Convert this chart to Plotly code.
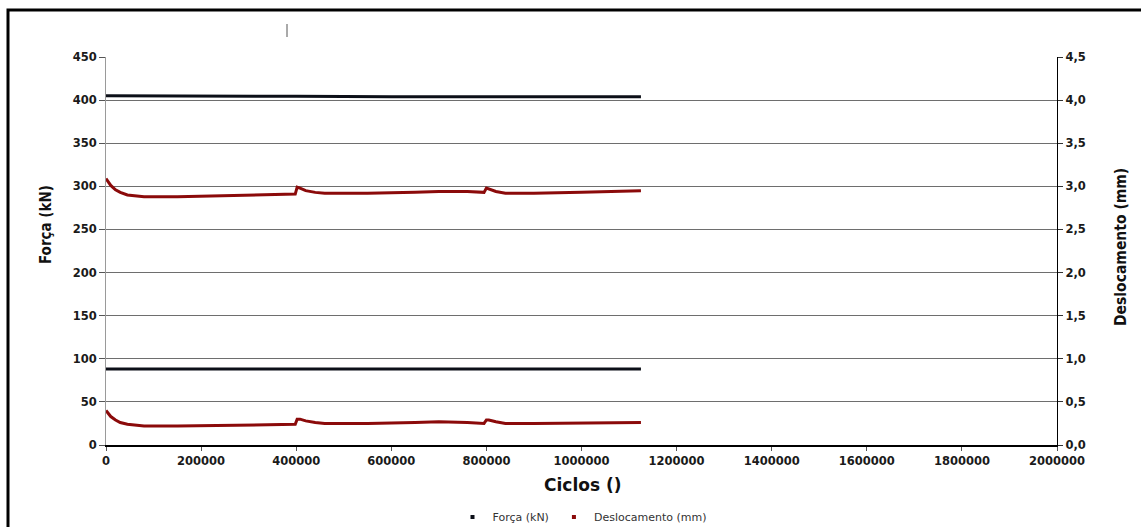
import plotly.graph_objects as go

# ---- data ----
cycles_force = [0, 200000, 400000, 600000, 800000, 1000000, 1125000]
force_max = [405, 405, 404.5, 404, 404, 404, 404]
force_min = [88, 88, 88, 88, 88, 88, 88]

cycles_disp = [0, 5000, 10000, 20000, 30000, 45000, 60000, 80000, 150000, 250000,
               350000, 398000, 402000, 408000, 420000, 440000, 460000, 550000,
               650000, 700000, 760000, 795000, 800000, 805000, 820000, 840000,
               900000, 1000000, 1100000, 1125000]
disp_max = [3.09, 3.05, 3.01, 2.96, 2.93, 2.90, 2.89, 2.88, 2.88, 2.89,
            2.90, 2.91, 2.99, 2.98, 2.95, 2.93, 2.92, 2.92,
            2.93, 2.94, 2.94, 2.93, 2.98, 2.97, 2.94, 2.92,
            2.92, 2.93, 2.95, 2.95]
disp_min = [0.40, 0.37, 0.33, 0.29, 0.26, 0.24, 0.23, 0.22, 0.22, 0.23,
            0.235, 0.24, 0.30, 0.30, 0.28, 0.26, 0.25, 0.25,
            0.26, 0.27, 0.26, 0.25, 0.29, 0.29, 0.27, 0.25,
            0.25, 0.255, 0.26, 0.26]

y_ticks_left = [0, 50, 100, 150, 200, 250, 300, 350, 400, 450]
y_ticks_right = [0.0, 0.5, 1.0, 1.5, 2.0, 2.5, 3.0, 3.5, 4.0, 4.5]
x_ticks = [0, 200000, 400000, 600000, 800000, 1000000, 1200000, 1400000, 1600000, 1800000, 2000000]

FORCE_COLOR = "#0c0f18"
DISP_COLOR = "#8b0a0a"
TICKFONT = dict(family="DejaVu Sans", size=11.5, color="#1a1a1a", weight="bold")

fig = go.Figure()

# force (left axis)
fig.add_trace(go.Scatter(x=cycles_force, y=force_max, mode="lines",
                         line=dict(color=FORCE_COLOR, width=3), showlegend=False, yaxis="y"))
fig.add_trace(go.Scatter(x=cycles_force, y=force_min, mode="lines",
                         line=dict(color=FORCE_COLOR, width=3), showlegend=False, yaxis="y"))
# displacement (right axis)
fig.add_trace(go.Scatter(x=cycles_disp, y=disp_max, mode="lines",
                         line=dict(color=DISP_COLOR, width=3), showlegend=False, yaxis="y2"))
fig.add_trace(go.Scatter(x=cycles_disp, y=disp_min, mode="lines",
                         line=dict(color=DISP_COLOR, width=3), showlegend=False, yaxis="y2"))

# legend entries
fig.add_trace(go.Scatter(x=[None], y=[None], mode="markers", name="Força (kN)",
                         marker=dict(color=FORCE_COLOR, size=4, symbol="square")))
fig.add_trace(go.Scatter(x=[None], y=[None], mode="markers", name="Deslocamento (mm)",
                         marker=dict(color=DISP_COLOR, size=4, symbol="square"), yaxis="y2"))

L, R, T, B = 106, 1057, 57, 445
W, H = 1141, 527
pw, ph = R - L, B - T

def px(x):
    return (x - L) / pw

def py(y):
    return (B - y) / ph

fig.update_layout(
    width=W, height=H,
    margin=dict(l=L, r=W - R, t=T, b=H - B, pad=0, autoexpand=False),
    paper_bgcolor="white", plot_bgcolor="white",
    separators=",.",
    xaxis=dict(range=[0, 2000000], tickvals=x_ticks, tickformat="d",
               showgrid=False, zeroline=False,
               showline=True, linecolor="#000000", linewidth=1.5,
               ticks="outside", ticklen=4, tickcolor="#555555",
               tickfont=TICKFONT, automargin=False),
    yaxis=dict(range=[0, 450], tickvals=y_ticks_left,
               showgrid=True, gridcolor="#6e6e6e", gridwidth=1.2,
               zeroline=False, showline=True, linecolor="#9a9a9a", linewidth=1,
               ticks="outside", ticklen=6, tickcolor="#555555",
               tickfont=TICKFONT, automargin=False),
    yaxis2=dict(range=[0, 4.5], tickvals=y_ticks_right, tickformat=".1f",
                overlaying="y", side="right", showgrid=False, zeroline=False,
                showline=True, linecolor="#000000", linewidth=1.2,
                ticks="outside", ticklen=5, tickcolor="#333333",
                tickfont=TICKFONT, automargin=False),
    legend=dict(orientation="h", x=px(582), xanchor="center", y=py(517), yanchor="middle",
                font=dict(family="DejaVu Sans", size=11, color="#333333"),
                itemwidth=30, bgcolor="rgba(0,0,0,0)"),
    annotations=[
        dict(text="Ciclos ()", xref="paper", yref="paper", x=px(582), y=py(485),
             showarrow=False, xanchor="center", yanchor="middle",
             font=dict(family="DejaVu Sans", size=17, color="#111111", weight="bold")),
        dict(text="Força (kN)", xref="paper", yref="paper", x=px(46), y=py(225),
             showarrow=False, textangle=-90, xanchor="center", yanchor="middle",
             font=dict(family="DejaVu Sans Condensed", size=15, color="#111111", weight="bold")),
        dict(text="Deslocamento (mm)", xref="paper", yref="paper", x=px(1121), y=py(247),
             showarrow=False, textangle=-90, xanchor="center", yanchor="middle",
             font=dict(family="DejaVu Sans Condensed", size=15.5, color="#111111", weight="bold")),
    ],
    shapes=[
        dict(type="rect", xref="paper", yref="paper",
             x0=px(8), x1=px(1160), y0=py(560), y1=py(10),
             line=dict(color="#000000", width=3), fillcolor="rgba(0,0,0,0)", layer="above"),
        dict(type="line", xref="paper", yref="paper",
             x0=px(287), x1=px(287), y0=py(24), y1=py(37),
             line=dict(color="#555555", width=1)),
    ],
)

fig.write_html("out.html")
